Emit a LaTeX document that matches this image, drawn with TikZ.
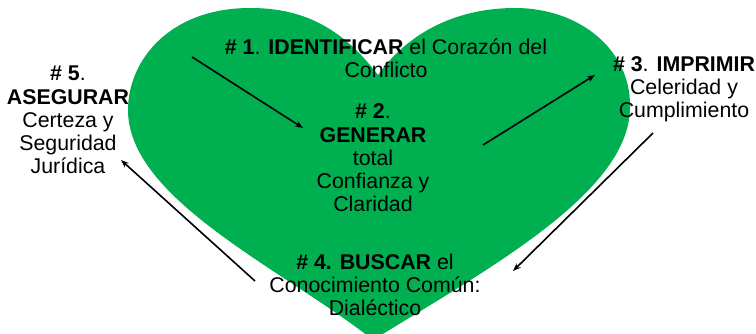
\documentclass[tikz,border=0pt]{standalone}
\usepackage{fontspec}
\setmainfont{Liberation Sans}
\usetikzlibrary{arrows.meta}
\definecolor{heartgreen}{RGB}{0,176,80}

\begin{document}
\begin{tikzpicture}[x=0.75pt,y=-0.75pt,
        step text/.style={align=center,inner sep=0pt,font=\fontsize{16}{17.4}\selectfont},
        step arrow/.style={-{Stealth[length=6pt,width=4.5pt]},line width=1.2pt}]
        \useasboundingbox (0,0) rectangle (756,333);

        % Heart shape behind everything
        \fill[heartgreen] (378,75) .. controls (340,25) and (300,8) .. (250,8)
                .. controls (170,8) and (128,60) .. (128,110)
                .. controls (128,200) and (285,270) .. (373,340)
                .. controls (495,265) and (632,190) .. (630,105)
                .. controls (630,50) and (580,8) .. (515,8)
                .. controls (460,8) and (410,30) .. (378,75);

        % The five steps
        \node[step text] (identificar) at (386,58) {\textbf{\# 1}. \textbf{IDENTIFICAR} el Coraz\'on del\\Conflicto};
        \node[step text] (generar) at (373,158) {\textbf{\# 2}.\\\textbf{GENERAR}\\total\\Confianza y\\Claridad};
        \node[step text] (imprimir) at (684,89) {\textbf{\# 3}. \textbf{IMPRIMIR}\\Celeridad y\\Cumplimiento};
        \node[step text] (buscar) at (375,285) {\textbf{\# 4. BUSCAR} el\\Conocimiento Com\'un:\\Dial\'ectico};
        \node[step text] (asegurar) at (68,120) {\textbf{\# 5}.\\\textbf{ASEGURAR}\\Certeza y\\Seguridad\\Jur\'idica};

        % Arrow ends
        \coordinate (a1s) at (192,57);
        \coordinate (a1e) at (303,128);
        \coordinate (a2s) at (483,145);
        \coordinate (a2e) at (595,75);
        \coordinate (a3s) at (653,133);
        \coordinate (a3e) at (513,271);
        \coordinate (a4s) at (255,281);
        \coordinate (a4e) at (121,160);

        % Cycle arrows
        \draw[step arrow] (a1s) -- (a1e);
        \draw[step arrow] (a2s) -- (a2e);
        \draw[step arrow] (a3s) -- (a3e);
        \draw[step arrow] (a4s) -- (a4e);
\end{tikzpicture}
\end{document}
